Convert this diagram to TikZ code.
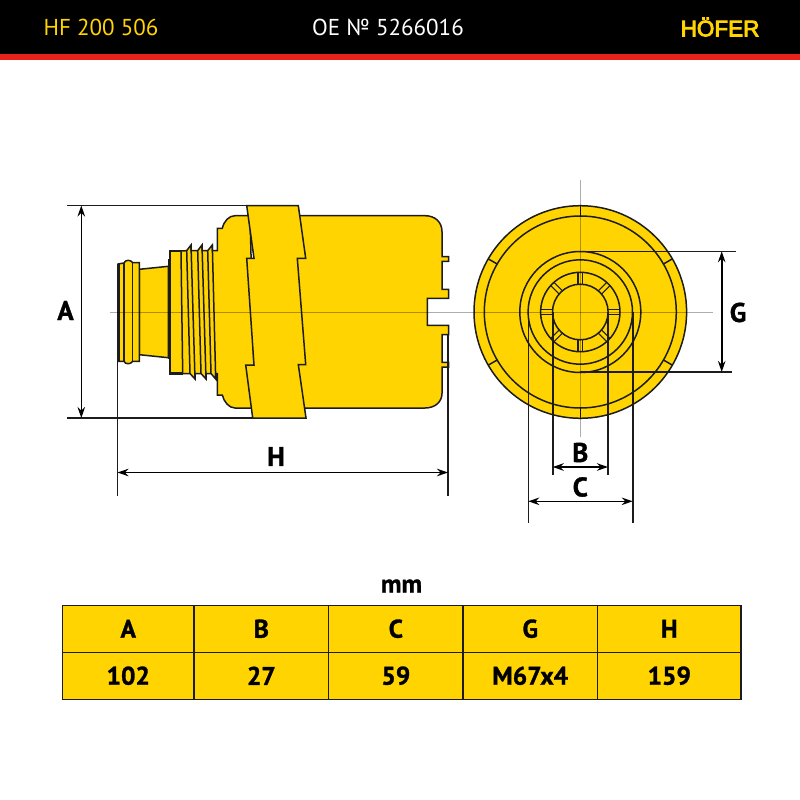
\documentclass[tikz,border=0pt]{standalone}
\usepackage{fontspec}
\usetikzlibrary{arrows.meta}
\setmainfont[BoldFeatures={FakeBold=1.2}]{PT Sans}
\newfontfamily\logofont[FakeBold=4]{Liberation Sans}
\definecolor{hfyellow}{HTML}{FFD400}
\definecolor{hfred}{HTML}{E8211A}
\definecolor{ink}{HTML}{1C1C1C}
\tikzset{
  part/.style={draw=ink,fill=hfyellow,line width=1.5pt,line join=miter},
  detail/.style={draw=ink,line width=1.5pt},
  axis/.style={draw=black,opacity=.32,line width=.8pt},
  ext/.style={draw=ink,line width=1.6pt},
  dim/.style={draw=black,line width=1.6pt,{Stealth[length=11pt,width=7.5pt]}-{Stealth[length=11pt,width=7.5pt]}},
  dimlabel/.style={font=\bfseries\fontsize{27}{27}\selectfont,text=black,inner sep=0pt},
  cell/.style={draw=ink,fill=hfyellow,line width=1.5pt,inner sep=0pt,font=\bfseries\fontsize{25.5}{25.5}\selectfont,text=black,anchor=center},
}
\begin{document}
\begin{tikzpicture}[x=1pt,y=-1pt]
\useasboundingbox (0,0) rectangle (800,800);
% header
\fill[black] (0,0) rectangle (800,54);
\fill[hfred] (0,54) rectangle (800,60);
\node[inner sep=0pt,text=hfyellow,font=\fontsize{23}{23}\selectfont] (code) at (101,27.5) {HF 200 506};
\node[inner sep=0pt,text=white,font=\fontsize{23}{23}\selectfont] (oe) at (388,27.5) {OE № 5266016};
\node[inner sep=0pt,text=hfyellow,font=\logofont\fontsize{22.5}{22.5}\selectfont] (logo) at (720,27) {HÖFER};

% side view: body
\path[part] (296,215.7) -- (425,215.7) .. controls (435,215.7) and (442,222) .. (442,231.7)
  -- (442,256.7) -- (448.7,256.7) -- (448.7,261.3) -- (442,261.3) -- (442,289.3)
  -- (448.7,289.3) -- (448.7,298.3) -- (427.3,298.3) -- (427.3,325.3) -- (448.7,325.3)
  -- (448.7,334.7) -- (442,334.7) -- (442,362.3) -- (448.7,362.3) -- (448.7,367)
  -- (442,367) -- (442,393.3) .. controls (442,402) and (435,408) .. (425,408) -- (296,408) -- cycle;
% side view: rear shoulder with threads
\path[part] (250,215.7) -- (235,215.7) .. controls (229,215.7) and (224,221) .. (222.3,228.3)
  -- (217.3,228.3) -- (217.3,250.7) -- (212.3,250.7) -- (212.3,245) -- (207.7,250.7) -- (202,250.7)
  -- (202,245) -- (197.7,250.7) -- (191,250.7) -- (191,245) -- (186.7,250.7) -- (170,251.3)
  -- (170,373.5) -- (190,373.5) -- (195,379) -- (195,373.5) -- (201,373.5)
  -- (206,379) -- (206,373.5) -- (211,373.5) -- (215.7,379) -- (215.7,373.5) -- (217.3,373.5)
  -- (217.3,395) -- (222.3,395) .. controls (224,402) and (229,408) .. (235,408) -- (255,408) -- cycle;
\draw[detail] (181,251.3) -- (182.7,373.5)
  (186.7,250.7) -- (190,373.5)
  (191,245) -- (195,379)
  (197.7,250.7) -- (201,373.5)
  (202,245) -- (206,379)
  (207.7,250.7) -- (211,373.5)
  (212.3,245) -- (215.7,379);
\draw[draw=ink,line width=2.2pt] (181,251.3) -- (170,251.3) -- (170,373.5) -- (182.7,373.5);
% side view: neck and head
\path[part] (168.3,260) -- (170,260) -- (170,358) -- (168.3,358) -- cycle;
\path[part] (139.3,269.3) -- (168.3,266.3) -- (168.3,357.7) -- (139.3,354.7) -- cycle;
\path[part] (118,264) -- (124,263) .. controls (125,259.5) and (131,259.5) .. (132.7,262.7)
  -- (139.3,262.7) -- (139.3,361.3) -- (132.7,361.3) .. controls (131,364.5) and (125,364.5) .. (124,361.3)
  -- (118,361.3) -- cycle;
\draw[detail] (124,263) -- (124,361.3) (132.7,262.7) -- (132.7,361.3);
\draw[draw=ink,line width=2.2pt] (118.5,264) -- (118.5,361.3);
% side view: collar
\path[part] (246.7,205.5) -- (298.3,205.5) -- (305.7,258.3) -- (297.3,258.3) -- (305.7,364.5)
  -- (298.3,364.5) -- (306,418) -- (252.7,418) -- (245.7,365) -- (254,365) -- (246.7,258.3)
  -- (254,258.3) -- cycle;

% front view
\coordinate (hub) at (580.3,312);
\path[part] (hub) circle[radius=106.3pt];
\path[detail] (hub) circle[radius=96pt];
\path[detail] (hub) circle[radius=60.5pt];
\path[detail] (hub) circle[radius=52.2pt];
\path[detail] (hub) circle[radius=39.7pt];
\path[detail] (hub) circle[radius=27.8pt];
\foreach \a in {30,90,150,210,270,330}
  \draw[detail,shift={(580.3,312)},rotate=\a] (96,0) -- (106,0);
\foreach \a in {0,45,...,315}
  \draw[draw=ink,line width=1.1pt,shift={(580.3,312)},rotate=\a] (27.8,-2.3) -- (39.7,-2.3) (27.8,2.3) -- (39.7,2.3);

% axes
\coordinate (axL) at (110,312); \coordinate (axR) at (713,312);
\coordinate (axT) at (580.3,180); \coordinate (axB) at (580.3,437);
\draw[axis] (axL) -- (axR);
\draw[axis] (axT) -- (axB);

% dimension A
\coordinate (aTL) at (67,205.5); \coordinate (aTR) at (250,205.5);
\coordinate (aBL) at (67,418); \coordinate (aBR) at (253,418);
\coordinate (aT) at (81.3,205.5); \coordinate (aB) at (81.3,418);
\draw[ext] (aTL) -- (aTR); \draw[ext] (aBL) -- (aBR);
\draw[dim] (aT) -- (aB);
\node[dimlabel] (labA) at (65.5,310.5) {A};
% dimension H
\coordinate (hL0) at (117.5,361); \coordinate (hL1) at (117.5,496);
\coordinate (hR0) at (448,335); \coordinate (hR1) at (448,496);
\coordinate (hA) at (117.5,472.5); \coordinate (hB) at (448,472.5);
\draw[ext] (hL0) -- (hL1); \draw[ext] (hR0) -- (hR1);
\draw[dim] (hA) -- (hB);
\node[dimlabel] (labH) at (276,456.5) {H};
% dimension G
\coordinate (gT0) at (580.3,251.3); \coordinate (gT1) at (736,251.3);
\coordinate (gB0) at (580.3,372); \coordinate (gB1) at (732,372);
\coordinate (gA) at (721.7,251.3); \coordinate (gB) at (721.7,372);
\draw[ext] (gT0) -- (gT1); \draw[ext] (gB0) -- (gB1);
\draw[dim] (gA) -- (gB);
\node[dimlabel] (labG) at (738,312.5) {G};
% dimension B
\coordinate (bL0) at (552.7,312); \coordinate (bL1) at (552.7,474.5);
\coordinate (bR0) at (608,312); \coordinate (bR1) at (608,474.5);
\coordinate (bA) at (552.7,467); \coordinate (bB) at (608,467);
\draw[ext] (bL0) -- (bL1); \draw[ext] (bR0) -- (bR1);
\draw[dim] (bA) -- (bB);
\node[dimlabel] (labB) at (580.3,452.5) {B};
% dimension C
\coordinate (cL0) at (528.3,312); \coordinate (cL1) at (528.3,523);
\coordinate (cR0) at (632.7,312); \coordinate (cR1) at (632.7,523);
\coordinate (cA) at (528.3,501.3); \coordinate (cB) at (632.7,501.3);
\draw[ext] (cL0) -- (cL1); \draw[ext] (cR0) -- (cR1);
\draw[dim] (cA) -- (cB);
\node[dimlabel] (labC) at (580.3,487) {C};

% table
\node[inner sep=0pt,text=black,font=\bfseries\fontsize{25.5}{25.5}\selectfont] (unit) at (401.5,586) {mm};
\foreach \n/\cx/\w/\h/\v in {a/128.25/131.5/A/102, b/261.35/134.7/B/27, c/395.85/134.3/C/59, g/530.25/134.5/G/M67x4, h/669.25/143.5/H/159}{
  \node[cell,minimum width=\w pt,minimum height=47pt] (h\n) at (\cx,628.75) {\h};
  \node[cell,minimum width=\w pt,minimum height=47pt] (v\n) at (\cx,675.75) {\v};
}
\end{tikzpicture}
\end{document}
